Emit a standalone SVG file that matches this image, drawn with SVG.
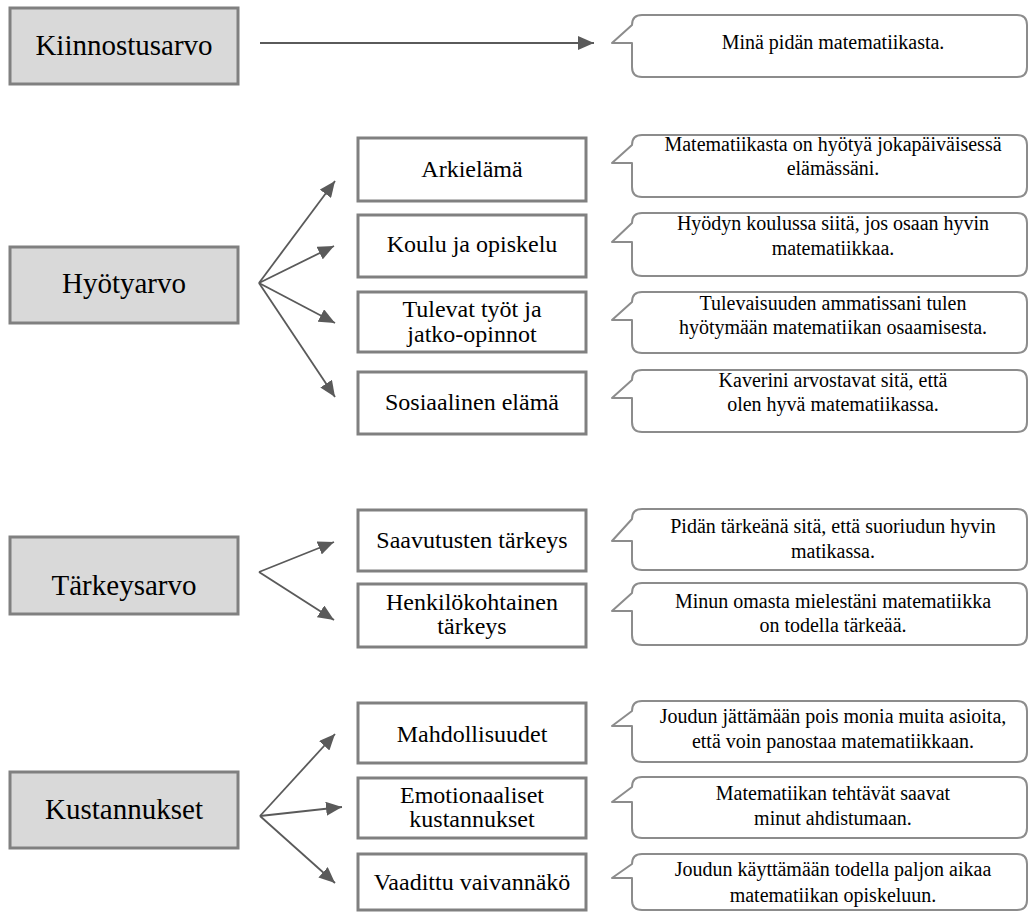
<svg xmlns="http://www.w3.org/2000/svg" width="1030" height="912" viewBox="0 0 1030 912">
<style>
.main{fill:#d9d9d9;stroke:#808080;stroke-width:3}
.sub{fill:#fff;stroke:#808080;stroke-width:3}
.co{fill:#fff;stroke:#8c8c8c;stroke-width:2;stroke-linejoin:round}
text{font-family:"Liberation Serif","Times New Roman",serif;fill:#000;text-anchor:middle}
.t1{font-size:29px}
.t2{font-size:24px}
.t3{font-size:20px}
.arr{stroke:#5a5a5a;stroke-width:1.8;fill:none;marker-end:url(#ah)}
</style>
<defs>
<marker id="ah" markerUnits="userSpaceOnUse" markerWidth="16" markerHeight="14" refX="16" refY="7" orient="auto">
<path d="M0,0 L16,7 L0,14 z" fill="#5a5a5a"/>
</marker>
</defs>
<g id="connectors">
<line class="arr" x1="260" y1="43" x2="594" y2="43"/>
<line class="arr" x1="259" y1="283" x2="335" y2="181"/>
<line class="arr" x1="259" y1="283" x2="334" y2="246"/>
<line class="arr" x1="259" y1="283" x2="335" y2="323"/>
<line class="arr" x1="259" y1="283" x2="335" y2="397"/>
<line class="arr" x1="259" y1="572" x2="334" y2="542"/>
<line class="arr" x1="259" y1="572" x2="334" y2="620"/>
<line class="arr" x1="260" y1="816" x2="335" y2="734"/>
<line class="arr" x1="260" y1="816" x2="342" y2="807"/>
<line class="arr" x1="260" y1="816" x2="335" y2="883"/>
</g>
<g id="kiinnostusarvo"><rect class="main" x="10" y="8" width="228" height="76"/><text class="t1" x="124" y="55">Kiinnostusarvo</text></g>
<g id="hyotyarvo"><rect class="main" x="10" y="247" width="228" height="76"/><text class="t1" x="124" y="293">Hyötyarvo</text></g>
<g id="tarkeysarvo"><rect class="main" x="10" y="537" width="228" height="77"/><text class="t1" x="124" y="595">Tärkeysarvo</text></g>
<g id="kustannukset"><rect class="main" x="10" y="772" width="228" height="76"/><text class="t1" x="124" y="819">Kustannukset</text></g>

<g id="arkielama"><rect class="sub" x="358" y="138" width="228" height="63"/><text class="t2" x="472" y="177">Arkielämä</text></g>
<g id="koulu"><rect class="sub" x="358" y="215" width="228" height="62"/><text class="t2" x="472" y="252">Koulu ja opiskelu</text></g>
<g id="tulevat"><rect class="sub" x="358" y="292" width="228" height="60"/><text class="t2" x="472" y="317">Tulevat työt ja</text><text class="t2" x="472" y="342">jatko-opinnot</text></g>
<g id="sosiaalinen"><rect class="sub" x="358" y="372" width="228" height="62"/><text class="t2" x="472" y="410">Sosiaalinen elämä</text></g>
<g id="saavutusten"><rect class="sub" x="358" y="510" width="228" height="61"/><text class="t2" x="472" y="548">Saavutusten tärkeys</text></g>
<g id="henkilokohtainen"><rect class="sub" x="358" y="584" width="228" height="63"/><text class="t2" x="472" y="610">Henkilökohtainen</text><text class="t2" x="472" y="634">tärkeys</text></g>
<g id="mahdollisuudet"><rect class="sub" x="358" y="703" width="228" height="60"/><text class="t2" x="472" y="742">Mahdollisuudet</text></g>
<g id="emotionaaliset"><rect class="sub" x="358" y="778" width="228" height="60"/><text class="t2" x="472" y="803">Emotionaaliset</text><text class="t2" x="472" y="827">kustannukset</text></g>
<g id="vaadittu"><rect class="sub" x="358" y="854" width="228" height="56"/><text class="t2" x="472" y="890">Vaadittu vaivannäkö</text></g>

<g id="c1"><path class="co" d="M642,15 H1017 Q1027,15 1027,25 V67 Q1027,77 1017,77 H642 Q632,77 632,67 V43 L612,43 L632,25 Q632,15 642,15 Z"/><text class="t3" x="833" y="49">Minä pidän matematiikasta.</text></g>
<g id="c2"><path class="co" d="M642,135 H1017 Q1027,135 1027,145 V187 Q1027,197 1017,197 H642 Q632,197 632,187 V163 L612,163 L632,145 Q632,135 642,135 Z"/><text class="t3" x="833" y="151">Matematiikasta on hyötyä jokapäiväisessä</text><text class="t3" x="833" y="175">elämässäni.</text></g>
<g id="c3"><path class="co" d="M642,213 H1017 Q1027,213 1027,223 V266 Q1027,276 1017,276 H642 Q632,276 632,266 V242 L612,242 L632,223 Q632,213 642,213 Z"/><text class="t3" x="833" y="230">Hyödyn koulussa siitä, jos osaan hyvin</text><text class="t3" x="833" y="255">matematiikkaa.</text></g>
<g id="c4"><path class="co" d="M642,292 H1017 Q1027,292 1027,302 V343 Q1027,353 1017,353 H642 Q632,353 632,343 V320 L612,320 L632,302 Q632,292 642,292 Z"/><text class="t3" x="833" y="310">Tulevaisuuden ammatissani tulen</text><text class="t3" x="833" y="334">hyötymään matematiikan osaamisesta.</text></g>
<g id="c5"><path class="co" d="M642,370 H1017 Q1027,370 1027,380 V422 Q1027,432 1017,432 H642 Q632,432 632,422 V398 L612,398 L632,380 Q632,370 642,370 Z"/><text class="t3" x="833" y="387">Kaverini arvostavat sitä, että</text><text class="t3" x="833" y="411">olen hyvä matematiikassa.</text></g>
<g id="c6"><path class="co" d="M642,509 H1017 Q1027,509 1027,519 V560 Q1027,570 1017,570 H642 Q632,570 632,560 V541 L612,541 L632,519 Q632,509 642,509 Z"/><text class="t3" x="833" y="533">Pidän tärkeänä sitä, että suoriudun hyvin</text><text class="t3" x="833" y="558">matikassa.</text></g>
<g id="c7"><path class="co" d="M642,583 H1017 Q1027,583 1027,593 V635 Q1027,645 1017,645 H642 Q632,645 632,635 V611 L612,611 L632,593 Q632,583 642,583 Z"/><text class="t3" x="833" y="608">Minun omasta mielestäni matematiikka</text><text class="t3" x="833" y="632">on todella tärkeää.</text></g>
<g id="c8"><path class="co" d="M642,701 H1017 Q1027,701 1027,711 V752 Q1027,762 1017,762 H642 Q632,762 632,752 V726 L612,726 L632,711 Q632,701 642,701 Z"/><text class="t3" x="833" y="723">Joudun jättämään pois monia muita asioita,</text><text class="t3" x="833" y="748">että voin panostaa matematiikkaan.</text></g>
<g id="c9"><path class="co" d="M642,777 H1017 Q1027,777 1027,787 V828 Q1027,838 1017,838 H642 Q632,838 632,828 V802 L612,802 L632,787 Q632,777 642,777 Z"/><text class="t3" x="833" y="800">Matematiikan tehtävät saavat</text><text class="t3" x="833" y="825">minut ahdistumaan.</text></g>
<g id="c10"><path class="co" d="M642,854 H1017 Q1027,854 1027,864 V900 Q1027,910 1017,910 H642 Q632,910 632,900 V878 L612,878 L632,864 Q632,854 642,854 Z"/><text class="t3" x="833" y="876">Joudun käyttämään todella paljon aikaa</text><text class="t3" x="833" y="902">matematiikan opiskeluun.</text></g>
</svg>
